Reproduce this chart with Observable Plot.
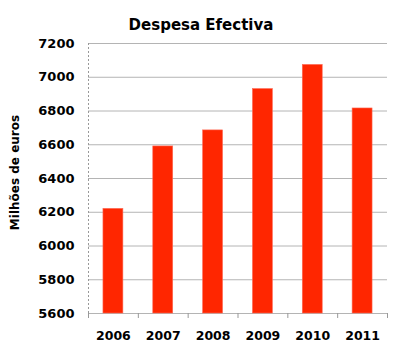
<!DOCTYPE html>
<html><head><meta charset="utf-8">
<script src="https://cdn.jsdelivr.net/npm/d3@7"></script>
<script src="https://cdn.jsdelivr.net/npm/@observablehq/plot@0.6"></script>
<style>body{margin:0;background:#fff}</style>
</head><body><div id="chart"></div>
<script>
const title = "Despesa Efectiva";
const yLabel = "Milhões de euros";
const years = [2006, 2007, 2008, 2009, 2010, 2011];
const values = [6220, 6590, 6685, 6930, 7073, 6815];
const yTicks = [5600, 5800, 6000, 6200, 6400, 6600, 6800, 7000, 7200];
const yMin = 5600, yMax = 7200;

const data = years.map((y, i) => ({year: y, value: values[i]}));
const halfBand = 0.5, barHalf = 0.2;
const bounds = years.map(y => y - halfBand).concat([years[years.length - 1] + halfBand]);
const font = "DejaVu Sans, sans-serif";

const chart = Plot.plot({
  width: 400, height: 356,
  marginLeft: 88, marginRight: 13, marginTop: 43, marginBottom: 43,
  style: {fontFamily: font, fontWeight: "bold", color: "#000", background: "#fff"},
  x: {domain: [bounds[0], bounds[bounds.length - 1]]},
  y: {domain: [yMin, yMax]},
  marks: [
    Plot.gridY(yTicks, {stroke: "#b4b4b4", strokeOpacity: 1}),
    Plot.ruleX([bounds[0]], {stroke: "#999", strokeDasharray: "2,2"}),
    Plot.rectY(data, {x1: d => d.year - barHalf, x2: d => d.year + barHalf, y1: yMin, y2: "value", fill: "#ff2600", stroke: "#ff6a55", strokeWidth: 0.6}),
    Plot.axisY({ticks: yTicks, tickSize: 0, tickPadding: 14, fontSize: 13, fontWeight: "bold", label: null, tickFormat: d => String(d)}),
    Plot.axisX({ticks: bounds, tickSize: 5, stroke: "#999", tickFormat: () => "", label: null}),
    Plot.axisX({ticks: years, tickSize: 0, tickPadding: 18, fontSize: 12.5, fontWeight: "bold", tickFormat: d => String(d), label: null}),
    Plot.text([title], {frameAnchor: "top", dx: -37, dy: -24, fontSize: 15, fontWeight: "bold", fill: "#000"}),
    Plot.text([yLabel], {frameAnchor: "left", textAnchor: "middle", rotate: -90, dx: -73, dy: -6, fontSize: 12, fontWeight: "bold", fill: "#000"})
  ]
});
document.getElementById("chart").appendChild(chart);
</script></body></html>
